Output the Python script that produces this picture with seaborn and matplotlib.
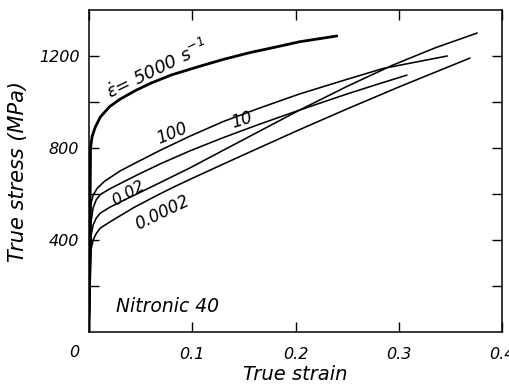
import matplotlib
matplotlib.use('Agg')
import matplotlib.pyplot as plt
import seaborn as sns
import pandas as pd

# values (strain, stress in MPa)
rates = ['5000', '100', '10', '0.02', '0.0002']

strain_5000 = [0, 0.0015, 0.003, 0.006, 0.011, 0.02, 0.03, 0.045, 0.06, 0.08, 0.107, 0.13, 0.156, 0.18, 0.204, 0.24]
stress_5000 = [0, 800, 850, 890, 935, 980, 1012, 1050, 1082, 1118, 1155, 1185, 1215, 1238, 1262, 1287]

strain_100 = [0, 0.002, 0.004, 0.008, 0.015, 0.03, 0.045, 0.069, 0.098, 0.13, 0.166, 0.204, 0.24, 0.285, 0.317, 0.347]
stress_100 = [0, 560, 595, 625, 655, 700, 735, 790, 852, 915, 975, 1035, 1085, 1146, 1174, 1200]

strain_10 = [0, 0.002, 0.004, 0.007, 0.011, 0.02, 0.037, 0.049, 0.07, 0.098, 0.13, 0.163, 0.204, 0.25, 0.28, 0.308]
stress_10 = [0, 480, 540, 575, 598, 622, 661, 688, 733, 788, 845, 900, 965, 1035, 1078, 1117]

strain_002 = [0, 0.002, 0.004, 0.007, 0.011, 0.02, 0.037, 0.049, 0.07, 0.098, 0.13, 0.163, 0.204, 0.25, 0.294, 0.335, 0.376]
stress_002 = [0, 420, 465, 495, 517, 542, 580, 606, 652, 714, 790, 868, 965, 1068, 1160, 1235, 1300]

strain_00002 = [0, 0.002, 0.004, 0.007, 0.011, 0.02, 0.043, 0.065, 0.081, 0.098, 0.13, 0.156, 0.204, 0.25, 0.3, 0.335, 0.369]
stress_00002 = [0, 360, 400, 428, 452, 478, 540, 592, 628, 664, 730, 783, 880, 970, 1065, 1129, 1191]

curves = {
    '5000': (strain_5000, stress_5000),
    '100': (strain_100, stress_100),
    '10': (strain_10, stress_10),
    '0.02': (strain_002, stress_002),
    '0.0002': (strain_00002, stress_00002),
}

rows = []
for r in rates:
    for e, s in zip(*curves[r]):
        rows.append({'rate': r, 'strain': e, 'stress': s})
df = pd.DataFrame(rows)

sns.set_theme(style='ticks')
plt.rcParams['font.family'] = ['DejaVu Sans']
plt.rcParams['font.style'] = 'oblique'
plt.rcParams['text.color'] = 'black'
plt.rcParams['axes.labelcolor'] = 'black'

fig = plt.figure(figsize=(5.1, 3.91), dpi=100)
ax = fig.add_axes([89 / 510, 1 - 332 / 391, 413 / 510, 322 / 391])

for r in rates:
    lw = 2.0 if r == '5000' else 1.15
    sns.lineplot(data=df[df['rate'] == r], x='strain', y='stress', ax=ax,
                 color='black', lw=lw, sort=False, estimator=None)

ax.set_xlim(0, 0.4)
ax.set_ylim(0, 1400)

ax.set_xticks([0, 0.1, 0.2, 0.3, 0.4])
ax.set_xticklabels(['', '0.1', '0.2', '0.3', '0.4'])
ax.set_yticks([200, 400, 600, 800, 1000, 1200])
ax.set_yticklabels(['', '400', '', '800', '', '1200'])
ax.tick_params(direction='in', top=True, right=True, length=7.5, width=1.0,
               labelsize=11.5, colors='black')
ax.tick_params(axis='x', pad=11)
ax.tick_params(axis='y', pad=7)
for sp in ax.spines.values():
    sp.set_linewidth(1.1)
    sp.set_color('black')

# the origin label sits left of the corner
ax.text(-0.014, -56, '0', ha='center', va='top', fontsize=11.5)

ax.set_xlabel('True strain', fontsize=14, labelpad=2)
ax.set_ylabel('True stress (MPa)', fontsize=15, labelpad=8)

ax.text(0.066, 1140, r'$\dot{\varepsilon}$= 5000 s$^{-1}$', fontsize=13, rotation=26,
        ha='center', va='center')
ax.text(0.080, 865, '100', fontsize=12, rotation=22, ha='center', va='center')
ax.text(0.148, 922, '10', fontsize=12, rotation=17, ha='center', va='center')
ax.text(0.038, 604, '0.02', fontsize=11.5, rotation=30, ha='center', va='center')
ax.text(0.071, 517, '0.0002', fontsize=12, rotation=26, ha='center', va='center')
ax.text(0.076, 110, 'Nitronic 40', fontsize=13.5, ha='center', va='center')

fig.savefig('out.png', dpi=100)
